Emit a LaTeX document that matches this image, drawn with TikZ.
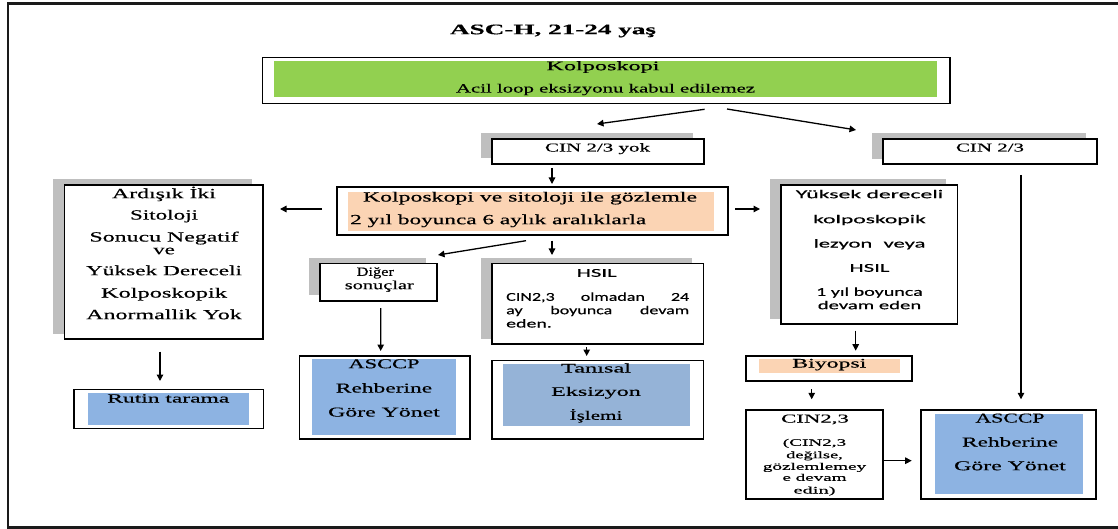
\documentclass[tikz,border=0pt]{standalone}
\usepackage{fontspec}
\setmainfont[FakeBold=0.35]{Liberation Serif}
\newfontfamily\calfont[FakeBold=0.3]{Carlito}
\usetikzlibrary{arrows.meta,shadows,calc}

\definecolor{boxgreen}{HTML}{92D050}
\definecolor{boxpeach}{HTML}{FBD4B4}
\definecolor{boxblue}{HTML}{8DB3E2}
\definecolor{boxsteel}{HTML}{95B3D7}
\definecolor{shadowgray}{HTML}{BFBFBF}
\definecolor{framegray}{HTML}{1A1A1A}

% stretch a line of text horizontally to a given width (in pt)
\newlength\fitlen
\newcommand\fitw[2]{\settowidth\fitlen{#2}\pgfmathsetmacro\fitf{#1/\fitlen}\scalebox{\fitf}[1]{#2}}

\tikzset{
  box/.style={draw=black, line width=1.6pt, fill=white, inner sep=0pt, outer sep=0pt},
  dropshadow/.style={general shadow={fill=shadowgray, draw=none, shadow xshift=-11pt, shadow yshift=5.5pt}},
  ln/.style={inner sep=0pt, text height=.7em, text depth=.2em},
  sz/.style={font=\fontsize{#1}{#1}\selectfont},
  cz/.style={font=\calfont\fontsize{#1}{#1}\selectfont},
  arr/.style={line width=1.3pt, -{Triangle[length=6.5pt,width=6.5pt]}},
}

\begin{document}
\begin{tikzpicture}[x=1pt, y=-1pt]
\useasboundingbox (0,0) rectangle (1118,529);

% outer frame (open on the right)
\draw[line width=2.4pt, framegray] (1118,3.5) -- (8,3.5) -- (8,527.6) -- (1118,527.6);

% title
\node[ln, font=\bfseries\fontsize{14.5}{14.5}\selectfont] (title) at (553,31.7) {\fitw{206}{ASC-H, 21-24 yaş}};

% ---------- boxes ----------
\node[box, minimum width=687.5pt, minimum height=46pt] (kolp) at (606.25,80.5) {};
\node[box, dropshadow, minimum width=212pt, minimum height=25pt] (yok) at (598,151.5) {};
\node[box, dropshadow, minimum width=214pt, minimum height=25.3pt] (cin) at (990,151.6) {};
\node[box, minimum width=391pt, minimum height=47.7pt] (gozlem) at (532.2,211.15) {};
\node[box, dropshadow, minimum width=198.7pt, minimum height=154pt] (ardisik) at (163.65,262) {};
\node[box, dropshadow, minimum width=176.6pt, minimum height=139pt] (yuksek) at (869,254.5) {};
\node[box, dropshadow, minimum width=116.7pt, minimum height=37.4pt] (diger) at (378.35,282) {};
\node[box, dropshadow, minimum width=211.6pt, minimum height=80.7pt] (hsil) at (597.5,303.65) {};
\node[box, minimum width=170.7pt, minimum height=83.3pt] (ascl) at (384.65,397.35) {};
\node[box, minimum width=211.6pt, minimum height=78.5pt] (tanisal) at (597.5,399.75) {};
\node[box, minimum width=189.3pt, minimum height=39pt] (rutin) at (168.65,408.8) {};
\node[box, minimum width=166pt, minimum height=25.3pt] (biyopsi) at (828.7,368.35) {};
\node[box, minimum width=137pt, minimum height=89pt] (cinb) at (814.2,454.5) {};
\node[box, minimum width=174.7pt, minimum height=89pt] (ascr) at (1008.35,454.5) {};

% ---------- coloured panels inside the boxes ----------
\fill[boxgreen] (274,61) rectangle (937,96.7);
\fill[boxpeach] (348,192) rectangle (714,230.7);
\fill[boxblue] (311.7,359.3) rectangle (456,435);
\fill[boxsteel] (503.3,364) rectangle (690,425.7);
\fill[boxblue] (88.3,392.7) rectangle (249.3,425);
\fill[boxpeach] (759.3,359.3) rectangle (900,373.3);
\fill[boxblue] (935,414) rectangle (1083.3,494.3);

% ---------- texts ----------
\node[ln, sz=13] (kolp-1) at (603,67.7) {\fitw{113}{Kolposkopi}};
\node[ln, sz=12.5] (kolp-2) at (605.5,90) {\fitw{299}{Acil loop eksizyonu kabul edilemez}};

\node[ln, sz=12] (yok-1) at (597.5,149) {\fitw{105}{CIN 2/3 yok}};
\node[ln, sz=12] (cin-1) at (990,149) {\fitw{68}{CIN 2/3}};

\node[ln, sz=14] (gozlem-1) at (530,199) {\fitw{334}{Kolposkopi ve sitoloji ile gözlemle}};
\node[ln, sz=14, anchor=west] (gozlem-2) at (350,221.7) {\fitw{296}{2 yıl boyunca 6 aylık aralıklarla}};

\foreach \t/\w/\y [count=\i] in {{Ardışık İki}/104/195.7, Sitoloji/68/217,
    {Sonucu Negatif}/149/239, ve/21.6/251.7, {Yüksek Dereceli}/156/272.7,
    Kolposkopik/126/295, {Anormallik Yok}/155.7/316.7}
  \node[ln, sz=14] (ardisik-\i) at (164,\y) {\fitw{\w}{\t}};

\foreach \t/\w/\y [count=\i] in {{Yüksek dereceli}/147.3/195.7, kolposkopik/112.7/220.7,
    {lezyon\enspace veya}/111.7/245, HSIL/40/269.3, {1 yıl boyunca}/106.7/293.3,
    {devam eden}/103.4/306.7}
  \node[ln, cz=12] (yuksek-\i) at (869.5,\y) {\fitw{\w}{\t}};

\node[ln, sz=12.5] (diger-1) at (375.3,273.3) {\fitw{37.3}{Diğer}};
\node[ln, sz=12.5] (diger-2) at (379.3,286.7) {\fitw{69}{sonuçlar}};

\node[ln, cz=12] (hsil-1) at (596.7,274.3) {\fitw{40}{HSIL}};
\node[ln, cz=12, anchor=west] (hsil-2) at (506,298.3)
  {\scalebox{1.5}[1]{\makebox[122pt]{CIN2,3\hfill olmadan\hfill 24}}};
\node[ln, cz=12, anchor=west] (hsil-3) at (506,311.7)
  {\scalebox{1.5}[1]{\makebox[122pt]{ay\hfill boyunca\hfill devam}}};
\node[ln, cz=12, anchor=west] (hsil-4) at (506,325) {\fitw{45.7}{eden.}};

\foreach \t/\w/\y [count=\i] in {ASCCP/71/365.7, Rehberine/96.3/390, {Göre Yönet}/111.7/414}
  \node[ln, sz=13.5] (ascl-\i) at (384,\y) {\fitw{\w}{\t}};

\foreach \t/\w/\y [count=\i] in {Tanısal/70/370, Eksizyon/89.7/393.3, İşlemi/52.7/417.3}
  \node[ln, sz=13] (tanisal-\i) at (596,\y) {\fitw{\w}{\t}};

\node[ln, sz=12.5] (rutin-1) at (168.3,400) {\fitw{122}{Rutin tarama}};
\node[ln, sz=13] (biyopsi-1) at (829.3,365) {\fitw{74}{Biyopsi}};

\node[ln, sz=12] (cinb-1) at (815,420) {\fitw{67.7}{CIN2,3}};
\foreach \t/\w/\y [count=\i from 2] in {{(CIN2,3}/63.3/443.3, {değilse,}/56.7/455.7,
    gözlemlemey/103.3/467.3, {e devam}/64/478.3, {edin)}/42/491}
  \node[ln, sz=10] (cinb-\i) at (814.5,\y) {\fitw{\w}{\t}};

\foreach \t/\w/\y [count=\i] in {ASCCP/69/420, Rehberine/96/444, {Göre Yönet}/111.7/467.7}
  \node[ln, sz=13.5] (ascr-\i) at (1010,\y) {\fitw{\w}{\t}};

% ---------- connectors ----------
\draw[arr] ($(kolp.south)+(98.4,5.8)$) -- ($(yok.north)+(-1,-15)$);
\draw[arr] ($(kolp.south)+(120.75,5.5)$) -- ($(cin.north)+(-134,-9)$);
\draw[arr] ($(yok.south)+(-46,4)$) -- ($(gozlem.north)+(19.8,-3.3)$);
\draw[arr] ($(gozlem.west)+(-14.7,-2.15)$) -- ($(ardisik.east)+(17,-53)$);
\draw[arr] ($(gozlem.east)+(7.3,-2.15)$) -- ($(yuksek.west)+(-20.7,-45.5)$);
\draw[arr] ($(gozlem.south)+(-6.2,5.7)$) -- ($(diger.north)+(59.65,-8.3)$);
\draw[arr] ($(gozlem.south)+(19.8,5.7)$) -- ($(hsil.north)+(-45.5,-8.3)$);
\draw[arr] ($(diger.south)+(2.35,7.3)$) -- ($(ascl.north)+(-3.95,-4.7)$);
\draw[arr] ($(hsil.south)+(-10.8,3)$) -- ($(tanisal.north)+(-10.8,-4.5)$);
\draw[arr] ($(ardisik.south)+(-3.65,12.7)$) -- ($(rutin.north)+(-8.65,-8.3)$);
\draw[arr] ($(cin.south)+(31,10.7)$) -- ($(ascr.north)+(12.65,-10.7)$);
\draw[arr] ($(yuksek.south)+(-13.3,6.7)$) -- ($(biyopsi.north)+(27,-5)$);
\draw[arr] ($(biyopsi.south)+(-17,8)$) -- ($(cinb.north)+(-2.5,-10.7)$);
\draw[arr] ($(cinb.east)+(0.6,6.2)$) -- ($(ascr.west)+(-9.3,6.2)$);
\end{tikzpicture}
\end{document}
